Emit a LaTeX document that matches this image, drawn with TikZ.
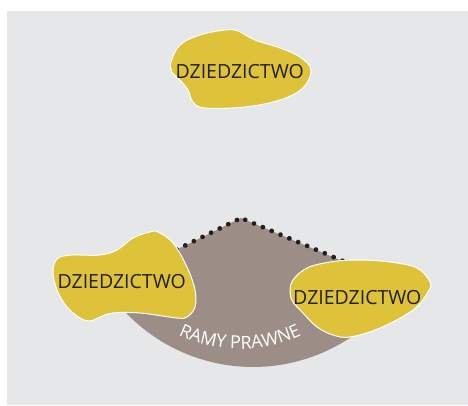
\documentclass[tikz,border=0pt]{standalone}
\usepackage{fontspec}
\setmainfont{Open Sans}
\usetikzlibrary{decorations.text,decorations.markings}
\definecolor{paper}{HTML}{E6E7E8}
\definecolor{ochre}{HTML}{DEC33A}
\definecolor{taupe}{HTML}{9C8E86}
\definecolor{ink}{HTML}{231F20}
\tikzset{
  blob/.style={fill=ochre, draw=white, line width=1pt},
  heritage/.style={inner sep=0pt, text=ink, font=\fontsize{19.5}{20}\selectfont},
  dots/.style={decoration={markings,
      mark=between positions 4.5pt and 1 step 9.6pt with {\fill[ink] (0,0) circle (2.4pt);}},
    decorate},
}
\begin{document}
\begin{tikzpicture}[x=1pt,y=1pt]
  \useasboundingbox (0,0) rectangle (468,405);
  % backdrop
  \fill[paper] (7,0) rectangle (468,394);

  % legal frame: wedge closed by an arc
  \coordinate (apex) at (241,187);
  \coordinate (leftfoot) at (104.4,119.7);
  \coordinate (dotL) at (176,155);
  \coordinate (dotR) at (350,141);
  \fill[taupe] (apex) -- (leftfoot) arc[start angle=212.4, end angle=327.3, radius=176pt] -- cycle;
  \path[dots] (apex) -- (dotL);
  \path[dots] (apex) -- (dotR);

  % label bent along the lower rim
  \path[decorate, decoration={text along path, text align=center,
      text={|\color{white}\fontsize{18}{18}\selectfont|RAMY PRAWNE}}]
    (240,200) ++(232:144) arc[start angle=232, end angle=308, radius=144pt];

  % heritage blobs
  \draw[blob] plot[smooth cycle, tension=0.6] coordinates {
    (171,343) (180,360) (200,370) (225,375) (238,374) (255,365) (280,357)
    (300,348) (311,335) (303,317) (280,305) (245,298) (205,297) (193,303)
    (188,315) (180,325) (172,333)};
  \draw[blob] plot[smooth cycle, tension=0.6] coordinates {
    (55,143) (60,148) (73,150) (100,150) (117,155) (133,167) (150,173)
    (158,173) (173,162) (187,138) (195,115) (195,98) (187,88) (177,87)
    (140,92) (113,92) (100,88) (90,84) (80,87) (67,98) (57,115) (53,132)};
  \draw[blob] plot[smooth cycle, tension=0.6] coordinates {
    (290,113) (293,125) (307,137) (330,143) (357,145) (390,143) (417,137)
    (430,123) (428,113) (413,95) (380,77) (350,68) (333,70) (317,78)
    (303,92) (293,103)};

  \node[heritage] (heritageTop) at (239.7,333.3) {DZIEDZICTWO};
  \node[heritage] (heritageLeft) at (121.7,123.3) {DZIEDZICTWO};
  \node[heritage] (heritageRight) at (357.3,107.5) {DZIEDZICTWO};
\end{tikzpicture}
\end{document}
